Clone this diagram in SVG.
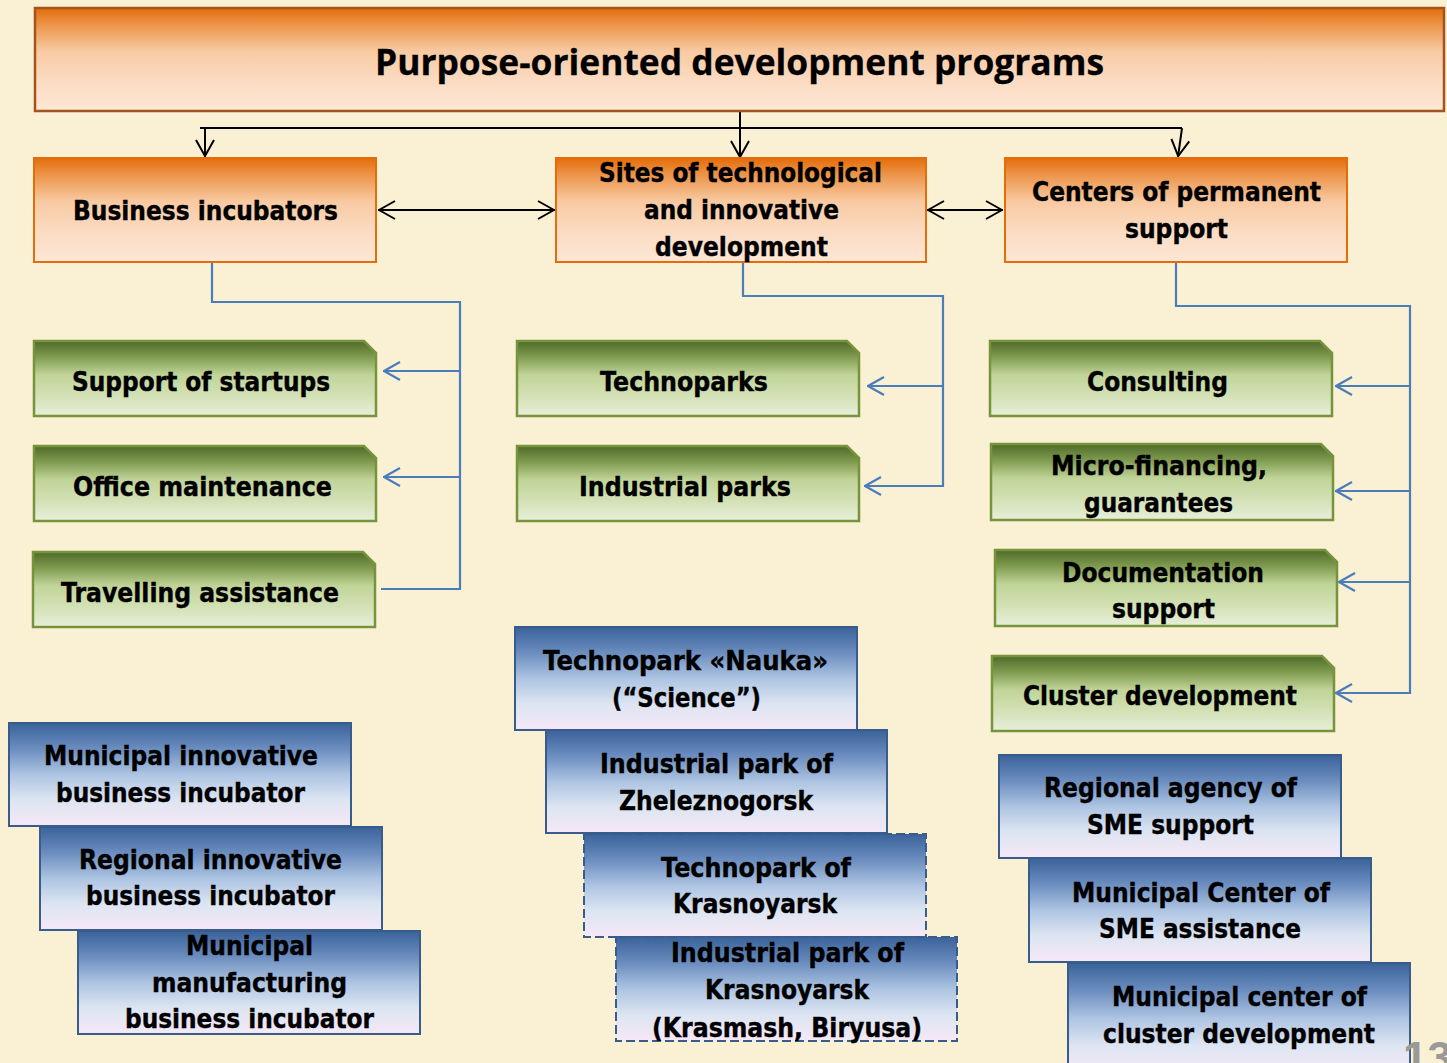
<svg xmlns="http://www.w3.org/2000/svg" width="1447" height="1063" viewBox="0 0 1447 1063">
<defs>
<linearGradient id="gOr" x1="0" y1="0" x2="0" y2="1">
<stop offset="0" stop-color="#e36c0a"/><stop offset="0.15" stop-color="#ec9245"/><stop offset="0.42" stop-color="#f8caa2"/><stop offset="0.7" stop-color="#fbdbc2"/><stop offset="1" stop-color="#fde7d6"/>
</linearGradient>
<linearGradient id="gGr" x1="0" y1="0" x2="0" y2="1">
<stop offset="0" stop-color="#4f6a29"/><stop offset="0.2" stop-color="#7c984c"/><stop offset="0.45" stop-color="#c0d498"/><stop offset="0.75" stop-color="#d4e2b7"/><stop offset="1" stop-color="#e8efdb"/>
</linearGradient>
<linearGradient id="gBl" x1="0" y1="0" x2="0" y2="1">
<stop offset="0" stop-color="#3a629a"/><stop offset="0.25" stop-color="#6b8dbf"/><stop offset="0.5" stop-color="#adc4e2"/><stop offset="0.75" stop-color="#dde5f2"/><stop offset="1" stop-color="#f6e8f7"/>
</linearGradient>
<marker id="aK" viewBox="0 0 18 20" refX="18" refY="10" markerWidth="18" markerHeight="20" markerUnits="userSpaceOnUse" orient="auto-start-reverse">
<path d="M1,1 L17,10 L1,19" fill="none" stroke="#000" stroke-width="2"/>
</marker>
<marker id="aB" viewBox="0 0 18 20" refX="18" refY="10" markerWidth="18" markerHeight="20" markerUnits="userSpaceOnUse" orient="auto">
<path d="M1,1 L17,10 L1,19" fill="none" stroke="#4a7ebb" stroke-width="2.2"/>
</marker>
</defs>
<style>
text{font-family:"DejaVu Sans","Liberation Sans",sans-serif;font-weight:bold;font-size:26px;fill:#000;stroke:#000;stroke-width:0.4}
.title{font-family:"Open Sans","Noto Sans",sans-serif;font-size:36px;font-weight:bold;stroke-width:0.3}
.or{fill:url(#gOr);stroke:#e46c0a;stroke-width:2}
.gr{fill:url(#gGr);stroke:#77933c;stroke-width:2.5}
.bl{fill:url(#gBl);stroke:#385d8a;stroke-width:2}
.dash{stroke-dasharray:9 4}
.k{fill:none;stroke:#000;stroke-width:2}
.b{fill:none;stroke:#4a7ebb;stroke-width:2.2}
.pg{font-family:"Liberation Sans",sans-serif;font-size:44px;fill:#999;stroke:none}
</style>
<rect width="1447" height="1063" fill="#faf0d4"/>

<g id="connectors">
<path class="k" d="M200,128 H1182"/>
<path class="k" d="M205,128 V157" marker-end="url(#aK)"/>
<path class="k" d="M740,111 V158" marker-end="url(#aK)"/>
<path class="k" d="M1182,128 L1178,157" marker-end="url(#aK)"/>
<path class="k" d="M378,210 H555" marker-start="url(#aK)" marker-end="url(#aK)"/>
<path class="k" d="M927,210 H1003" marker-start="url(#aK)" marker-end="url(#aK)"/>
<path class="b" d="M212,263 V302 H460 V589 H381"/>
<path class="b" d="M460,371 H383" marker-end="url(#aB)"/>
<path class="b" d="M460,477 H383" marker-end="url(#aB)"/>
<path class="b" d="M743,263 V296 H943 V486 H864" marker-end="url(#aB)"/>
<path class="b" d="M943,386 H867" marker-end="url(#aB)"/>
<path class="b" d="M1176,263 V306 H1410 V693 H1335" marker-end="url(#aB)"/>
<path class="b" d="M1410,386 H1335" marker-end="url(#aB)"/>
<path class="b" d="M1410,491 H1335" marker-end="url(#aB)"/>
<path class="b" d="M1410,582 H1338" marker-end="url(#aB)"/>
</g>

<g id="title">
<rect x="35" y="8" width="1409" height="103" fill="url(#gOr)" stroke="#a3541c" stroke-width="2.5"/>
<text class="title" x="375" y="75" textLength="729" lengthAdjust="spacingAndGlyphs">Purpose-oriented development programs</text>
</g>

<g id="business-incubators">
<rect class="or" x="34" y="158" width="342" height="104"/>
<text x="73" y="220" textLength="265" lengthAdjust="spacingAndGlyphs">Business incubators</text>
</g>
<g id="sites">
<rect class="or" x="556" y="158" width="370" height="104"/>
<text x="599" y="182" textLength="283" lengthAdjust="spacingAndGlyphs">Sites of technological</text>
<text x="644" y="219" textLength="195" lengthAdjust="spacingAndGlyphs">and innovative</text>
<text x="655" y="256" textLength="173" lengthAdjust="spacingAndGlyphs">development</text>
</g>
<g id="centers">
<rect class="or" x="1005" y="158" width="342" height="104"/>
<text x="1032" y="201" textLength="289" lengthAdjust="spacingAndGlyphs">Centers of permanent</text>
<text x="1125" y="238" textLength="103" lengthAdjust="spacingAndGlyphs">support</text>
</g>

<g id="support-startups">
<path class="gr" d="M34,341 H364 L376,353 V416 H34 Z"/>
<text x="72" y="391" textLength="258" lengthAdjust="spacingAndGlyphs">Support of startups</text>
</g>
<g id="office">
<path class="gr" d="M34,446 H364 L376,458 V521 H34 Z"/>
<text x="73" y="496" textLength="259" lengthAdjust="spacingAndGlyphs">Office maintenance</text>
</g>
<g id="travelling">
<path class="gr" d="M33,552 H363 L375,564 V627 H33 Z"/>
<text x="61" y="602" textLength="278" lengthAdjust="spacingAndGlyphs">Travelling assistance</text>
</g>
<g id="technoparks">
<path class="gr" d="M517,341 H847 L859,353 V416 H517 Z"/>
<text x="600" y="391" textLength="168" lengthAdjust="spacingAndGlyphs">Technoparks</text>
</g>
<g id="industrial-parks">
<path class="gr" d="M517,446 H847 L859,458 V521 H517 Z"/>
<text x="579" y="496" textLength="212" lengthAdjust="spacingAndGlyphs">Industrial parks</text>
</g>
<g id="consulting">
<path class="gr" d="M990,341 H1320 L1332,353 V416 H990 Z"/>
<text x="1087" y="391" textLength="141" lengthAdjust="spacingAndGlyphs">Consulting</text>
</g>
<g id="micro">
<path class="gr" d="M991,444 H1321 L1333,456 V520 H991 Z"/>
<text x="1051" y="475" textLength="216" lengthAdjust="spacingAndGlyphs">Micro-financing,</text>
<text x="1084" y="512" textLength="149" lengthAdjust="spacingAndGlyphs">guarantees</text>
</g>
<g id="documentation">
<path class="gr" d="M995,550 H1325 L1337,562 V626 H995 Z"/>
<text x="1062" y="582" textLength="202" lengthAdjust="spacingAndGlyphs">Documentation</text>
<text x="1112" y="618" textLength="103" lengthAdjust="spacingAndGlyphs">support</text>
</g>
<g id="cluster">
<path class="gr" d="M992,656 H1322 L1334,668 V731 H992 Z"/>
<text x="1023" y="705" textLength="274" lengthAdjust="spacingAndGlyphs">Cluster development</text>
</g>

<g id="municipal-innovative">
<rect class="bl" x="9" y="723" width="342" height="103"/>
<text x="44" y="765" textLength="274" lengthAdjust="spacingAndGlyphs">Municipal innovative</text>
<text x="56" y="802" textLength="249" lengthAdjust="spacingAndGlyphs">business incubator</text>
</g>
<g id="regional-innovative">
<rect class="bl" x="40" y="827" width="342" height="103"/>
<text x="79" y="869" textLength="263" lengthAdjust="spacingAndGlyphs">Regional innovative</text>
<text x="86" y="905" textLength="249" lengthAdjust="spacingAndGlyphs">business incubator</text>
</g>
<g id="municipal-manufacturing">
<rect class="bl" x="78" y="931" width="342" height="103"/>
<text x="186" y="955" textLength="127" lengthAdjust="spacingAndGlyphs">Municipal</text>
<text x="152" y="992" textLength="195" lengthAdjust="spacingAndGlyphs">manufacturing</text>
<text x="125" y="1028" textLength="249" lengthAdjust="spacingAndGlyphs">business incubator</text>
</g>

<g id="nauka">
<rect class="bl" x="515" y="627" width="342" height="103"/>
<text x="543" y="670" textLength="285" lengthAdjust="spacingAndGlyphs">Technopark «Nauka»</text>
<text x="612" y="707" textLength="149" lengthAdjust="spacingAndGlyphs">(“Science”)</text>
</g>
<g id="zheleznogorsk">
<rect class="bl" x="546" y="730" width="341" height="103"/>
<text x="600" y="773" textLength="233" lengthAdjust="spacingAndGlyphs">Industrial park of</text>
<text x="619" y="810" textLength="194" lengthAdjust="spacingAndGlyphs">Zheleznogorsk</text>
</g>
<g id="technopark-krasnoyarsk">
<rect class="bl dash" x="584" y="834" width="342" height="103"/>
<text x="661" y="877" textLength="190" lengthAdjust="spacingAndGlyphs">Technopark of</text>
<text x="673" y="913" textLength="164" lengthAdjust="spacingAndGlyphs">Krasnoyarsk</text>
</g>
<g id="industrial-krasnoyarsk">
<rect class="bl dash" x="616" y="937" width="341" height="104"/>
<text x="671" y="962" textLength="233" lengthAdjust="spacingAndGlyphs">Industrial park of</text>
<text x="705" y="999" textLength="164" lengthAdjust="spacingAndGlyphs">Krasnoyarsk</text>
<text x="652" y="1037" textLength="270" lengthAdjust="spacingAndGlyphs">(Krasmash, Biryusa)</text>
</g>

<g id="regional-agency">
<rect class="bl" x="999" y="755" width="342" height="103"/>
<text x="1044" y="797" textLength="253" lengthAdjust="spacingAndGlyphs">Regional agency of</text>
<text x="1087" y="834" textLength="167" lengthAdjust="spacingAndGlyphs">SME support</text>
</g>
<g id="municipal-sme">
<rect class="bl" x="1029" y="858" width="342" height="104"/>
<text x="1072" y="902" textLength="258" lengthAdjust="spacingAndGlyphs">Municipal Center of</text>
<text x="1099" y="938" textLength="202" lengthAdjust="spacingAndGlyphs">SME assistance</text>
</g>
<g id="municipal-cluster">
<rect class="bl" x="1068" y="963" width="342" height="110"/>
<text x="1112" y="1006" textLength="255" lengthAdjust="spacingAndGlyphs">Municipal center of</text>
<text x="1103" y="1043" textLength="272" lengthAdjust="spacingAndGlyphs">cluster development</text>
</g>

<text class="pg" x="1403" y="1073">13</text>
</svg>
